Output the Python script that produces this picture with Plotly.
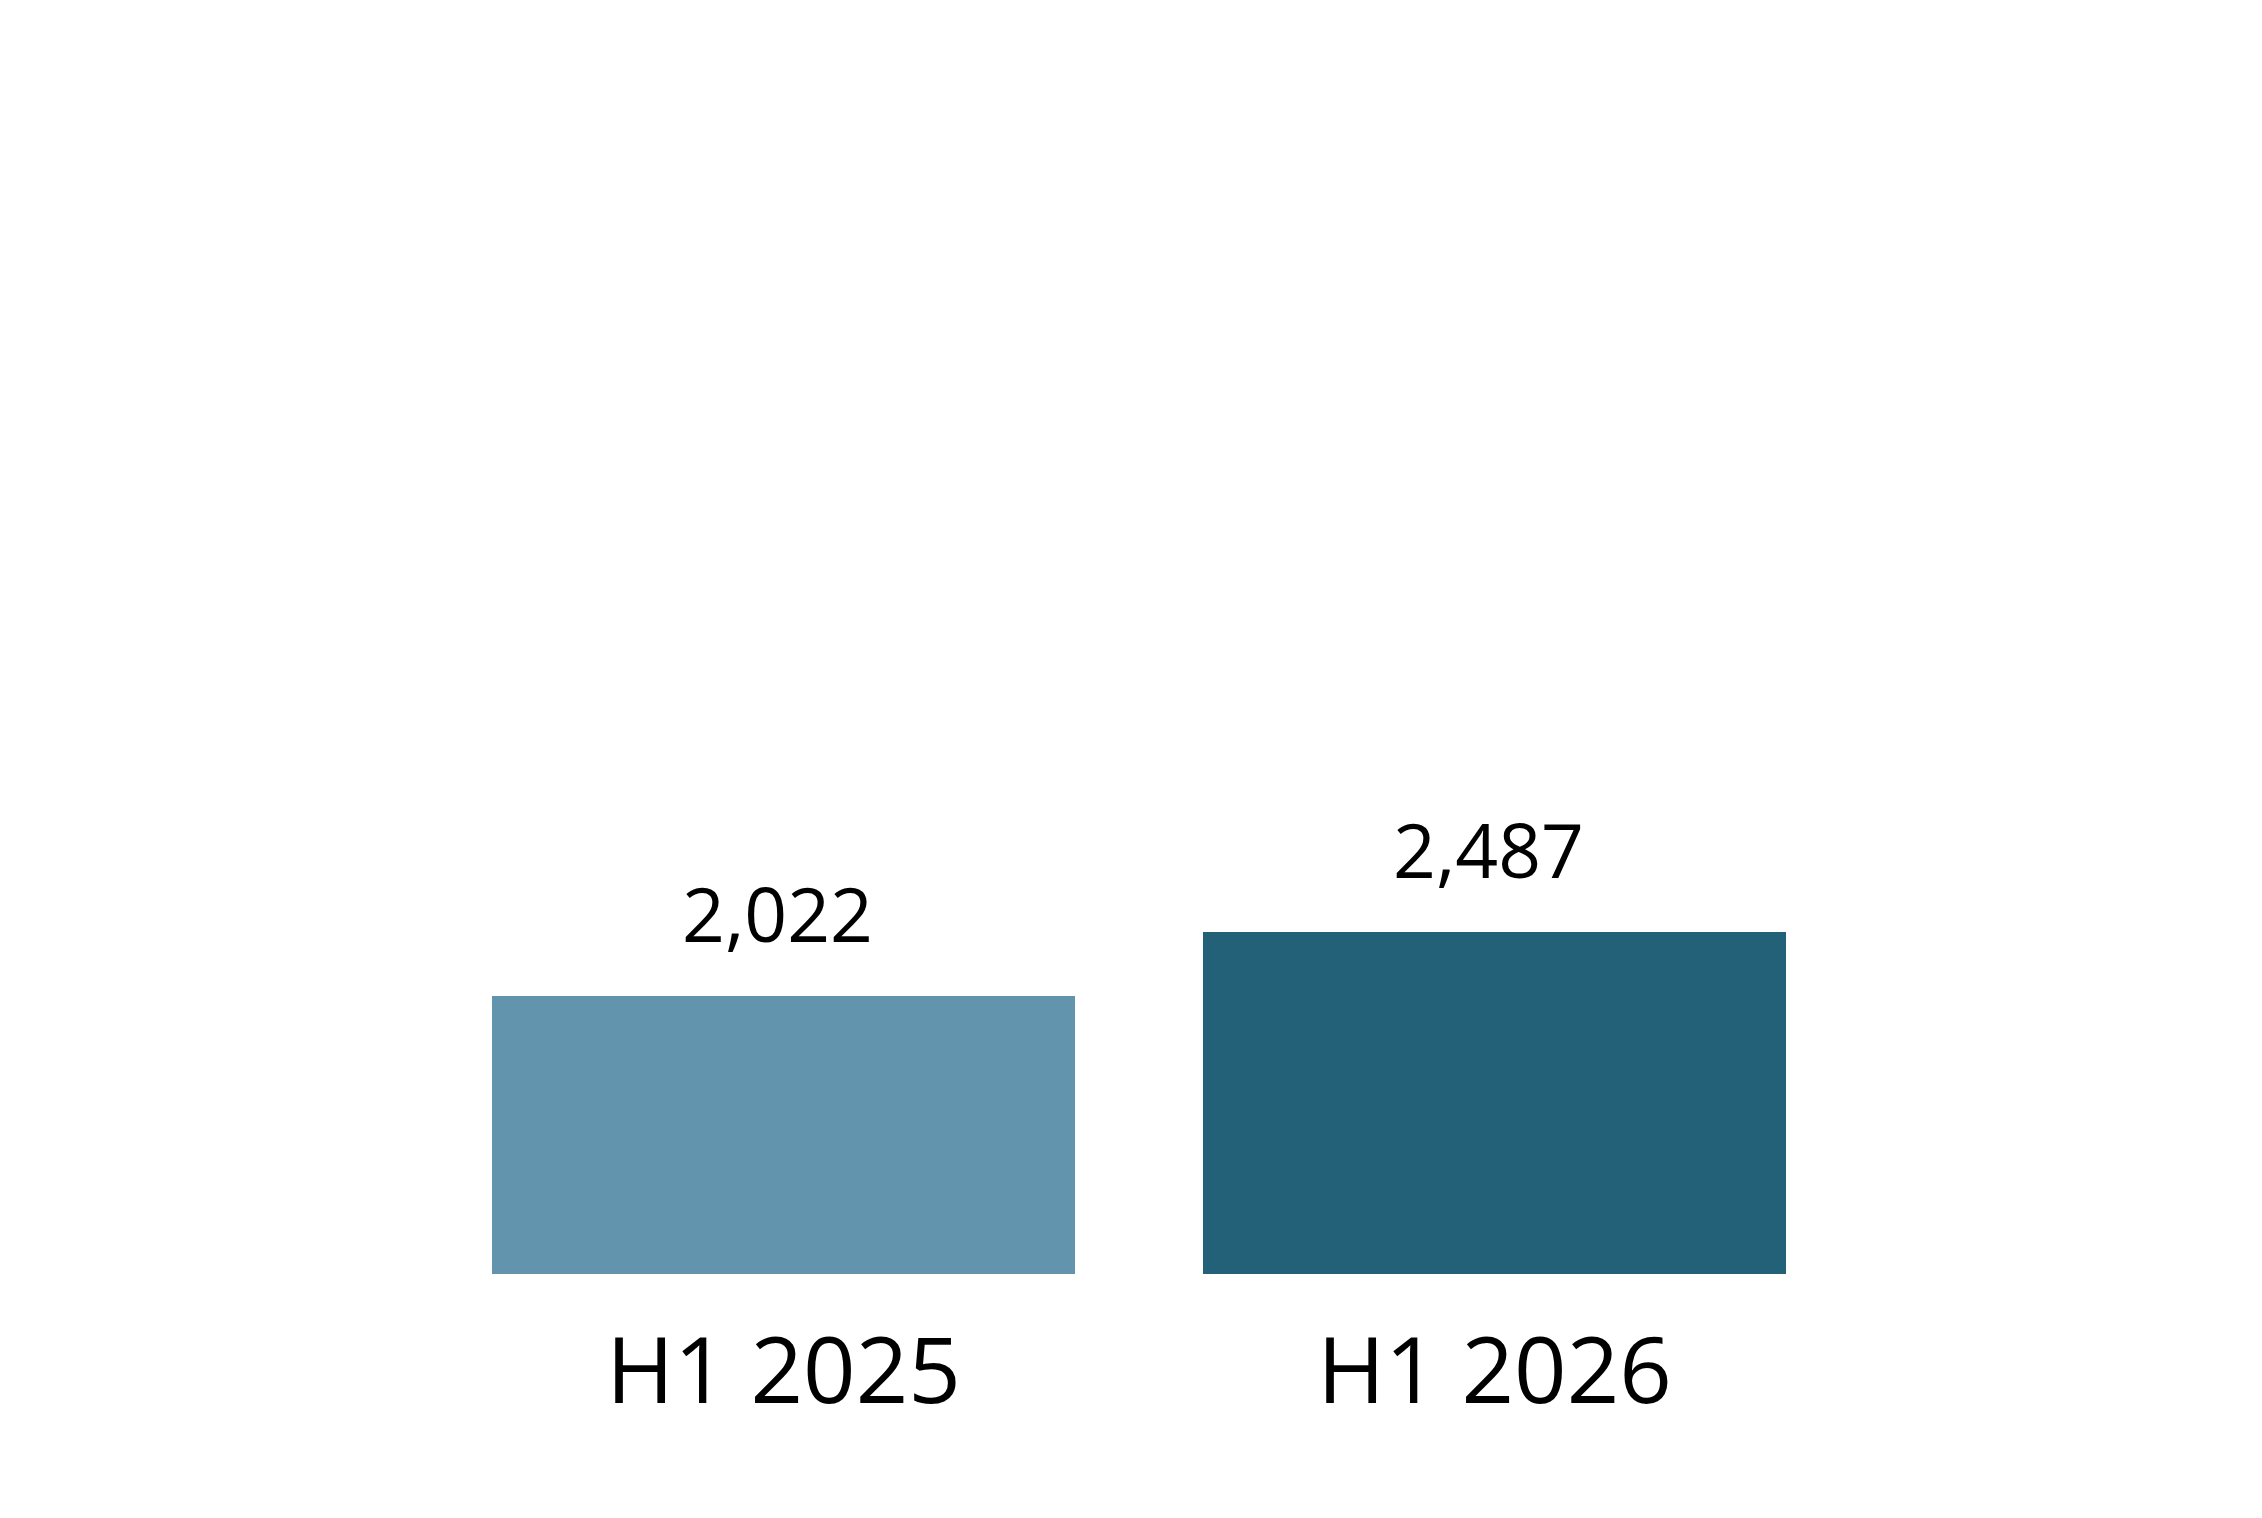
import plotly.graph_objects as go

categories = ["H1 2025", "H1 2026"]
values = [2022, 2487]
value_labels = ["2,022", "2,487"]
colors = ["#6295AD", "#236179"]

fig = go.Figure()
fig.add_trace(go.Bar(
    x=categories, y=values,
    marker=dict(color=colors, line=dict(width=0)),
    hoverinfo="skip",
))

for c, v, t in zip(categories, values, value_labels):
    fig.add_annotation(
        x=c, y=v, text=t, showarrow=False,
        xanchor="center", yanchor="bottom", yshift=30, xshift=-6,
        font=dict(family="Open Sans", size=75, color="#000000"),
    )

fig.update_layout(
    width=2262, height=1518,
    margin=dict(l=420, r=420, t=80, b=252, autoexpand=False),
    paper_bgcolor="white", plot_bgcolor="white",
    bargap=0.18,
    showlegend=False,
    xaxis=dict(
        showgrid=False, zeroline=False, showline=False, ticks="",
        tickfont=dict(family="Open Sans", size=92, color="#000000"),
        ticklabelstandoff=36,
        range=[-0.5, 1.5],
    ),
    yaxis=dict(
        showgrid=False, zeroline=False, showline=False, showticklabels=False,
        range=[0, 8624],
    ),
)

fig.write_html("out.html")
